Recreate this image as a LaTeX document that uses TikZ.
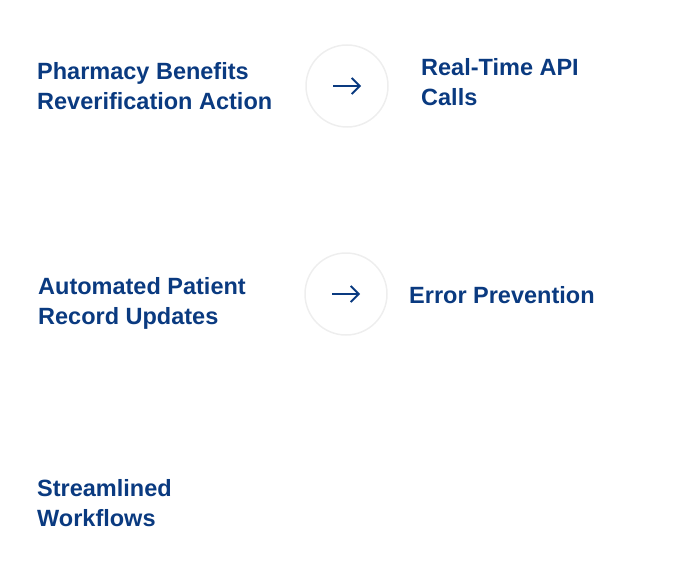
\documentclass[tikz,border=0pt]{standalone}
\usepackage{fontspec}
\setmainfont{Liberation Sans}
\usetikzlibrary{arrows.meta}
\definecolor{navy}{HTML}{0A3A80}
\definecolor{ringgray}{HTML}{EEEEEE}
\begin{document}
\begin{tikzpicture}[x=1pt,y=-1pt,
    label/.style={anchor=west,align=left,text=navy,inner sep=0pt,
        font=\fontsize{23.5}{30}\selectfont\bfseries},
    ring/.style={circle,draw=ringgray,line width=1.5pt,minimum size=82pt,inner sep=0pt},
    arr/.style={draw=navy,line width=1.8pt,-{Straight Barb[length=8pt,width=16pt]}}]
    %
    % frame
    \useasboundingbox (0,0) rectangle (695,588);
    %
    % left column
    \node[label] (benefits) at (37,86)  {Pharmacy Benefits\\Reverification Action};
    \node[label] (records)  at (38,303) {Automated Patient\\Record Updates};
    \node[label] (flows)    at (37,503) {Streamlined\\Workflows};
    %
    % rings with arrows
    \node[ring] (ringA) at (347,86)  {};
    \node[ring] (ringB) at (346,294) {};
    \draw[arr] (ringA.center) ++(-14,0) -- ++(28,0);
    \draw[arr] (ringB.center) ++(-14,0) -- ++(28,0);
    %
    % right column
    \node[label] (api)   at (421,82)  {Real-Time API\\Calls};
    \node[label] (error) at (409,295) {Error Prevention};
\end{tikzpicture}
\end{document}
